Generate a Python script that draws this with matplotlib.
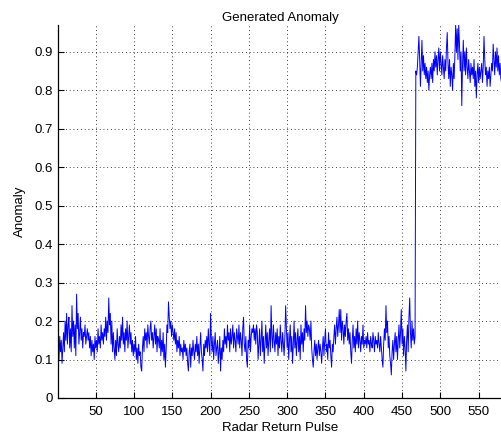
import numpy as np
import matplotlib
matplotlib.use("Agg")
import matplotlib.pyplot as plt

plt.rcParams['font.family'] = ['Liberation Sans', 'DejaVu Sans']

# anomaly level per radar return pulse, background clutter first
clutter = [
    0.14, 0.10, 0.16, 0.12, 0.15, 0.09, 0.13, 0.17, 0.12, 0.20, 0.15, 0.22, 0.14, 0.19, 0.21, 0.13, 0.18, 0.12, 0.24, 0.16,
    0.20, 0.13, 0.19, 0.11, 0.27, 0.18, 0.22, 0.14, 0.17, 0.21, 0.15, 0.18, 0.13, 0.17, 0.16, 0.19, 0.14, 0.16, 0.18, 0.15,
    0.17, 0.13, 0.16, 0.11, 0.15, 0.12, 0.14, 0.10, 0.16, 0.13, 0.15, 0.12, 0.18, 0.14, 0.16, 0.13, 0.19, 0.15, 0.17, 0.14,
    0.18, 0.16, 0.21, 0.15, 0.20, 0.17, 0.26, 0.19, 0.22, 0.14, 0.20, 0.12, 0.17, 0.13, 0.10, 0.15, 0.11, 0.18, 0.14, 0.12,
    0.16, 0.13, 0.19, 0.15, 0.21, 0.14, 0.17, 0.12, 0.18, 0.15, 0.20, 0.13, 0.16, 0.19, 0.14, 0.17, 0.12, 0.15, 0.11, 0.14,
    0.12, 0.16, 0.10, 0.13, 0.09, 0.14, 0.11, 0.12, 0.08, 0.07, 0.13, 0.16, 0.12, 0.18, 0.15, 0.17, 0.13, 0.19, 0.16, 0.14,
    0.18, 0.20, 0.15, 0.17, 0.13, 0.16, 0.19, 0.14, 0.18, 0.12, 0.16, 0.15, 0.13, 0.18, 0.11, 0.15, 0.12, 0.17, 0.10, 0.14,
    0.08, 0.13, 0.19, 0.17, 0.25, 0.21, 0.18, 0.20, 0.16, 0.19, 0.17, 0.15, 0.18, 0.14, 0.17, 0.12, 0.15, 0.13, 0.16, 0.11,
    0.14, 0.12, 0.13, 0.10, 0.15, 0.12, 0.14, 0.11, 0.13, 0.09, 0.07, 0.12, 0.14, 0.08, 0.13, 0.11, 0.15, 0.12, 0.10, 0.14,
    0.12, 0.16, 0.11, 0.14, 0.09, 0.13, 0.17, 0.12, 0.10, 0.07, 0.14, 0.11, 0.15, 0.13, 0.16, 0.12, 0.18, 0.14, 0.11, 0.22,
    0.15, 0.12, 0.16, 0.10, 0.14, 0.17, 0.11, 0.13, 0.15, 0.09, 0.12, 0.16, 0.07, 0.13, 0.10, 0.15, 0.12, 0.18, 0.14, 0.16,
    0.13, 0.19, 0.15, 0.17, 0.12, 0.18, 0.14, 0.16, 0.19, 0.13, 0.17, 0.15, 0.12, 0.18, 0.16, 0.14, 0.19, 0.13, 0.17, 0.15,
    0.11, 0.18, 0.21, 0.14, 0.12, 0.16, 0.10, 0.08, 0.15, 0.13, 0.19, 0.12, 0.16, 0.18, 0.17, 0.19, 0.15, 0.18, 0.14, 0.19,
    0.17, 0.10, 0.14, 0.18, 0.11, 0.15, 0.20, 0.12, 0.16, 0.09, 0.14, 0.19, 0.13, 0.17, 0.11, 0.15, 0.18, 0.12, 0.24, 0.16,
    0.13, 0.19, 0.15, 0.12, 0.17, 0.14, 0.18, 0.11, 0.16, 0.13, 0.19, 0.15, 0.12, 0.17, 0.14, 0.11, 0.16, 0.24, 0.18, 0.13,
    0.17, 0.10, 0.15, 0.19, 0.12, 0.16, 0.09, 0.14, 0.20, 0.13, 0.17, 0.11, 0.15, 0.18, 0.12, 0.16, 0.10, 0.19, 0.14, 0.17,
    0.12, 0.18, 0.15, 0.24, 0.17, 0.20, 0.16, 0.19, 0.18, 0.15, 0.20, 0.13, 0.10, 0.08, 0.12, 0.15, 0.11, 0.14, 0.10, 0.13,
    0.15, 0.11, 0.14, 0.12, 0.09, 0.13, 0.16, 0.11, 0.15, 0.18, 0.12, 0.14, 0.10, 0.17, 0.13, 0.15, 0.11, 0.08, 0.14, 0.12,
    0.16, 0.19, 0.14, 0.18, 0.21, 0.16, 0.19, 0.23, 0.17, 0.23, 0.15, 0.20, 0.18, 0.14, 0.19, 0.16, 0.20, 0.22, 0.15, 0.18,
    0.14, 0.17, 0.12, 0.09, 0.15, 0.19, 0.13, 0.16, 0.12, 0.18, 0.14, 0.20, 0.13, 0.17, 0.15, 0.12, 0.16, 0.14, 0.19, 0.13,
    0.15, 0.14, 0.16, 0.13, 0.17, 0.14, 0.15, 0.12, 0.16, 0.14, 0.13, 0.17, 0.15, 0.12, 0.16, 0.14, 0.15, 0.13, 0.17, 0.14,
    0.12, 0.16, 0.13, 0.10, 0.08, 0.14, 0.18, 0.15, 0.24, 0.17, 0.20, 0.13, 0.16, 0.11, 0.09, 0.06, 0.12, 0.15, 0.10, 0.14,
    0.17, 0.12, 0.16, 0.10, 0.15, 0.19, 0.13, 0.17, 0.23, 0.14, 0.18, 0.11, 0.16, 0.13, 0.07, 0.15, 0.19, 0.12, 0.21, 0.26,
    0.17, 0.13, 0.20, 0.15, 0.18, 0.14, 0.16,
]

# pulses after the anomaly switches on
anomaly = [
    0.85, 0.84, 0.86, 0.90, 0.94, 0.88, 0.81, 0.87, 0.93, 0.85, 0.89, 0.84, 0.87, 0.83, 0.86, 0.82, 0.85, 0.80, 0.84, 0.86,
    0.83, 0.87, 0.82, 0.88, 0.85, 0.90, 0.86, 0.89, 0.84, 0.88, 0.91, 0.85, 0.90, 0.87, 0.84, 0.89, 0.86, 0.83, 0.88, 0.85,
    0.91, 0.95, 0.87, 0.83, 0.88, 0.81, 0.86, 0.84, 0.80, 0.87, 0.83, 0.89, 0.97, 0.90, 0.96, 0.88, 0.97, 0.92, 0.85, 0.90,
    0.76, 0.87, 0.93, 0.85, 0.90, 0.84, 0.91, 0.86, 0.83, 0.88, 0.85, 0.82, 0.87, 0.84, 0.86, 0.83, 0.88, 0.81, 0.85, 0.78,
    0.84, 0.87, 0.82, 0.86, 0.83, 0.85, 0.87, 0.82, 0.86, 0.94, 0.88, 0.84, 0.86, 0.81, 0.85, 0.83, 0.86, 0.81, 0.84, 0.87,
    0.85, 0.92, 0.88, 0.84, 0.90, 0.86, 0.91, 0.85, 0.89, 0.84, 0.87, 0.83, 0.82,
]

signal = np.array(clutter + anomaly)
pulse = np.arange(1, len(signal) + 1)

x_ticks = [50, 100, 150, 200, 250, 300, 350, 400, 450, 500, 550]
y_ticks = [0, 0.1, 0.2, 0.3, 0.4, 0.5, 0.6, 0.7, 0.8, 0.9]
y_tick_labels = ["0", "0.1", "0.2", "0.3", "0.4", "0.5", "0.6", "0.7", "0.8", "0.9"]

fig = plt.figure(figsize=(5.01, 4.40), dpi=100)
ax = fig.add_axes([0.1162, 0.0955, 0.885, 0.848])

ax.plot(pulse, signal, color="#0000ff", lw=0.7)

ax.set_xlim(1, 580)
ax.set_ylim(0, 0.97)
ax.set_xticks(x_ticks)
ax.set_yticks(y_ticks)
ax.set_yticklabels(y_tick_labels)
ax.tick_params(direction="in", length=4, width=0.8, labelsize=9.5, colors="black", pad=4)
ax.tick_params(axis="x", pad=6)
ax.grid(True, color="black", linestyle=(0, (1, 3.5)), linewidth=0.6)

for side in ["top", "right"]:
    ax.spines[side].set_visible(False)
for side in ["left", "bottom"]:
    ax.spines[side].set_linewidth(0.9)

ax.set_title("Generated Anomaly", fontsize=9.5, pad=3)
ax.set_xlabel("Radar Return Pulse", fontsize=9.5, labelpad=3)
ax.set_ylabel("Anomaly", fontsize=9.5, labelpad=6)

fig.savefig("out.png", dpi=100)
